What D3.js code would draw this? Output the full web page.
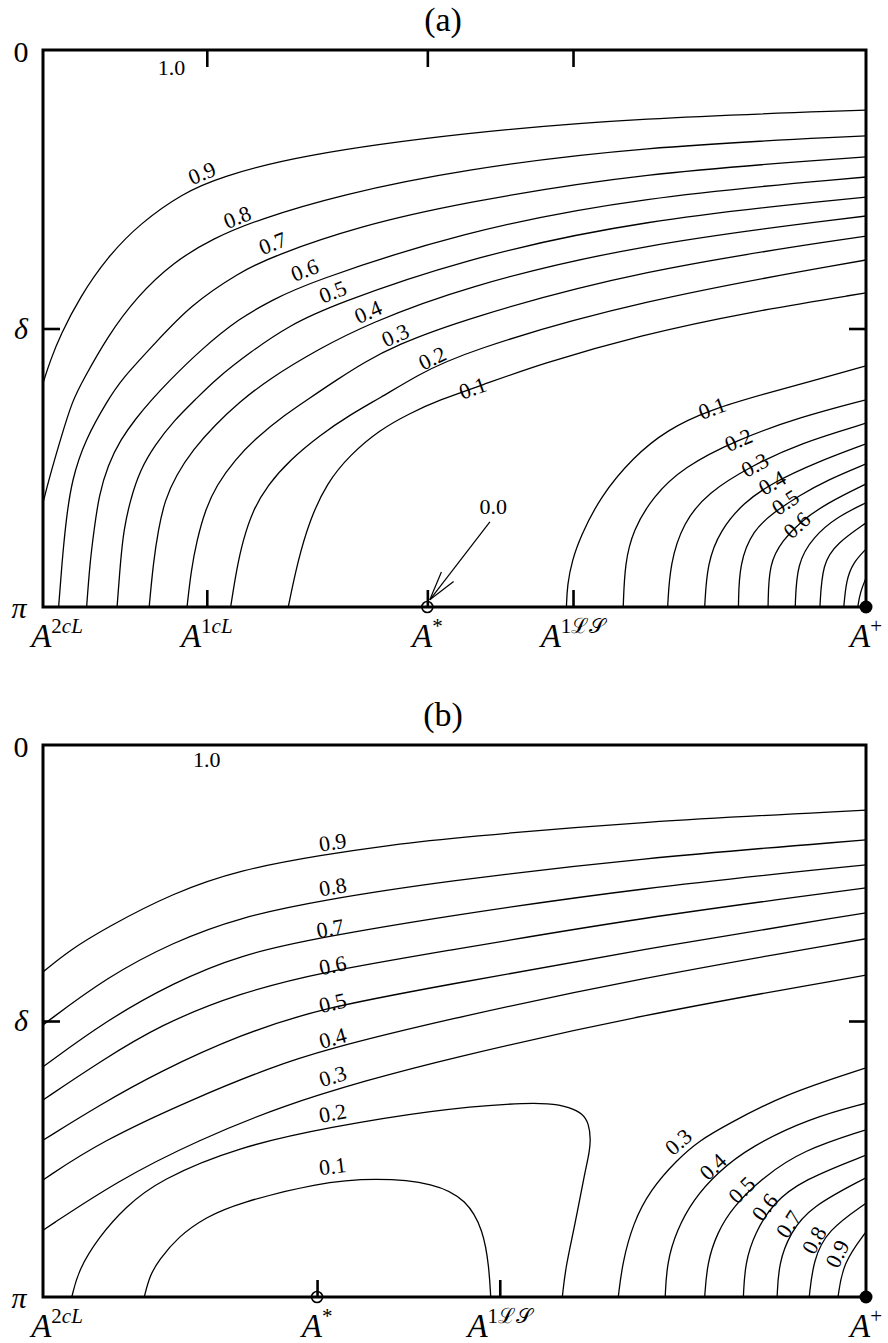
<!DOCTYPE html>
<html>
<head>
<meta charset="utf-8">
<script src="https://cdn.jsdelivr.net/npm/d3@7"></script>
<style>
  body { margin: 0; background: #fff; }
  svg text { font-family: "Liberation Serif", "Times New Roman", serif; fill: #000; }
</style>
</head>
<body>
<svg id="chart" width="888" height="1343"></svg>
<script>
// Coordinates: x = position along the parameter path (0 = left edge, 1 = A+),
// d = δ/π (0 at the top edge, 1 at the bottom edge).

// ---------- panel (a) ----------
const leftFamilyA = [
  { level: "0.9", label: [0.193, 0.221], pts: [[0,0.598],[0.009,0.557],[0.021,0.512],[0.045,0.443],[0.078,0.372],[0.118,0.311],[0.170,0.257],[0.215,0.228],[0.312,0.189],[0.507,0.149],[0.725,0.122],[1,0.108]] },
  { level: "0.8", label: [0.236, 0.300], pts: [[0,0.813],[0.007,0.772],[0.021,0.700],[0.036,0.628],[0.049,0.592],[0.078,0.515],[0.114,0.443],[0.158,0.381],[0.207,0.338],[0.260,0.305],[0.361,0.260],[0.507,0.215],[0.725,0.174],[1,0.154]] },
  { level: "0.7", label: [0.279, 0.347], pts: [[0.019,1],[0.023,0.921],[0.028,0.844],[0.035,0.772],[0.051,0.700],[0.079,0.628],[0.095,0.592],[0.134,0.530],[0.179,0.458],[0.239,0.399],[0.279,0.370],[0.385,0.316],[0.507,0.275],[0.725,0.221],[1,0.192]] },
  { level: "0.6", label: [0.318, 0.395], pts: [[0.053,1],[0.057,0.921],[0.062,0.862],[0.068,0.799],[0.079,0.745],[0.094,0.700],[0.113,0.661],[0.132,0.628],[0.152,0.596],[0.191,0.539],[0.239,0.481],[0.279,0.449],[0.318,0.420],[0.507,0.327],[0.725,0.264],[1,0.228]] },
  { level: "0.5", label: [0.352, 0.434], pts: [[0.090,1],[0.094,0.921],[0.098,0.862],[0.106,0.808],[0.118,0.754],[0.136,0.709],[0.160,0.664],[0.185,0.628],[0.209,0.592],[0.252,0.542],[0.300,0.494],[0.352,0.458],[0.507,0.377],[0.725,0.305],[1,0.264]] },
  { level: "0.4", label: [0.395, 0.470], pts: [[0.129,1],[0.134,0.921],[0.140,0.862],[0.148,0.808],[0.162,0.763],[0.182,0.718],[0.209,0.673],[0.239,0.632],[0.273,0.592],[0.337,0.535],[0.395,0.492],[0.507,0.427],[0.725,0.348],[1,0.298]] },
  { level: "0.3", label: [0.428, 0.512], pts: [[0.175,1],[0.180,0.934],[0.187,0.880],[0.197,0.826],[0.211,0.781],[0.233,0.736],[0.260,0.695],[0.294,0.655],[0.321,0.628],[0.357,0.592],[0.391,0.560],[0.428,0.531],[0.507,0.485],[0.725,0.395],[1,0.334]] },
  { level: "0.2", label: [0.473, 0.553], pts: [[0.228,1],[0.235,0.934],[0.243,0.880],[0.255,0.826],[0.273,0.781],[0.300,0.736],[0.337,0.691],[0.373,0.655],[0.409,0.625],[0.454,0.585],[0.507,0.544],[0.725,0.449],[1,0.377]] },
  { level: "0.1", label: [0.522, 0.607], pts: [[0.298,1],[0.309,0.921],[0.324,0.844],[0.345,0.777],[0.373,0.727],[0.409,0.682],[0.446,0.652],[0.482,0.628],[0.531,0.603],[0.604,0.564],[0.725,0.512],[0.859,0.470],[1,0.436]] }
];

const rightFamilyA = [
  { level: "0.1", label: [0.813, 0.643], pts: [[0.636,1],[0.637,0.960],[0.643,0.916],[0.653,0.874],[0.677,0.802],[0.717,0.731],[0.758,0.682],[0.810,0.646],[0.880,0.616],[0.940,0.592],[1,0.567]] },
  { level: "0.2", label: [0.845, 0.700], pts: [[0.705,1],[0.707,0.921],[0.717,0.862],[0.741,0.802],[0.778,0.749],[0.843,0.700],[0.920,0.659],[1,0.628]] },
  { level: "0.3", label: [0.865, 0.745], pts: [[0.759,1],[0.762,0.921],[0.778,0.849],[0.807,0.795],[0.863,0.745],[0.920,0.706],[1,0.670]] },
  { level: "0.4", label: [0.886, 0.777], pts: [[0.804,1],[0.807,0.921],[0.823,0.862],[0.851,0.813],[0.886,0.777],[0.940,0.740],[1,0.707]] },
  { level: "0.5", label: [0.902, 0.812], pts: [[0.845,1],[0.846,0.921],[0.863,0.862],[0.887,0.831],[0.920,0.799],[0.953,0.772],[1,0.743]] },
  { level: "0.6", label: [0.916, 0.853], pts: [[0.881,1],[0.882,0.921],[0.899,0.880],[0.920,0.847],[0.953,0.813],[1,0.779]] },
  { level: "0.7", label: null, pts: [[0.914,1],[0.916,0.921],[0.936,0.874],[0.965,0.838],[1,0.813]] },
  { level: "0.8", label: null, pts: [[0.944,1],[0.947,0.921],[0.965,0.885],[1,0.849]] },
  { level: "0.9", label: null, pts: [[0.973,1],[0.976,0.952],[0.984,0.921],[1,0.896]] },
  { level: "1.0", label: null, pts: [[0.990,1],[0.993,0.973],[1,0.948]] }
];

// zero-level pointer: label position, tail and tip of the arrow
const zeroLabelA = [0.547, 0.820];
const zeroArrowA = [[0.543, 0.847], [0.470, 0.987]];
const topLabelA = [0.156, 0.031];

const markNamesA = ["2cL", "1cL", "*", "1ℒ𝒮", "+"];
const markPosA   = [0.017, 0.199, 0.467, 0.644, 1];
const tickPosA   = [0.199, 0.467, 0.644];

// ---------- panel (b) ----------
const upperFamilyB = [
  { level: "0.9", label: [0.352, 0.176], pts: [[0,0.411],[0.033,0.371],[0.078,0.330],[0.158,0.268],[0.239,0.226],[0.340,0.199],[0.422,0.181],[0.507,0.167],[0.725,0.139],[1,0.118]] },
  { level: "0.8", label: [0.352, 0.257], pts: [[0,0.507],[0.078,0.420],[0.158,0.357],[0.239,0.312],[0.340,0.281],[0.482,0.248],[0.725,0.205],[1,0.172]] },
  { level: "0.7", label: [0.349, 0.332], pts: [[0,0.583],[0.078,0.498],[0.158,0.431],[0.239,0.380],[0.340,0.348],[0.482,0.312],[0.725,0.259],[1,0.217]] },
  { level: "0.6", label: [0.352, 0.399], pts: [[0,0.643],[0.069,0.574],[0.142,0.507],[0.239,0.449],[0.340,0.411],[0.482,0.375],[0.725,0.313],[1,0.259]] },
  { level: "0.5", label: [0.352, 0.467], pts: [[0,0.716],[0.069,0.652],[0.141,0.592],[0.239,0.525],[0.340,0.476],[0.482,0.437],[0.725,0.371],[1,0.304]] },
  { level: "0.4", label: [0.352, 0.531], pts: [[0,0.788],[0.069,0.719],[0.187,0.638],[0.279,0.583],[0.340,0.553],[0.482,0.500],[0.725,0.422],[1,0.351]] },
  { level: "0.3", label: [0.352, 0.600], pts: [[0,0.879],[0.092,0.788],[0.188,0.716],[0.294,0.652],[0.395,0.607],[0.482,0.572],[0.725,0.489],[1,0.417]] }
];

const basinFamilyB = [
  { level: "0.2", label: [0.352, 0.667], pts: [[0.035,1],[0.043,0.951],[0.068,0.891],[0.100,0.837],[0.141,0.788],[0.237,0.728],[0.349,0.692],[0.476,0.661],[0.572,0.649],[0.616,0.649],[0.640,0.656],[0.656,0.668],[0.663,0.685],[0.666,0.716],[0.662,0.752],[0.659,0.770],[0.645,0.879],[0.635,0.946],[0.631,1]] },
  { level: "0.1", label: [0.352, 0.763], pts: [[0.123,1],[0.130,0.960],[0.141,0.933],[0.164,0.891],[0.198,0.855],[0.237,0.830],[0.333,0.793],[0.405,0.784],[0.476,0.793],[0.515,0.824],[0.535,0.879],[0.542,0.946],[0.544,1]] }
];

const rightFamilyB = [
  { level: "0.3", label: [0.772, 0.719], pts: [[0.699,1],[0.704,0.938],[0.717,0.866],[0.738,0.806],[0.770,0.752],[0.798,0.716],[0.831,0.688],[0.899,0.634],[1,0.585]] },
  { level: "0.4", label: [0.814, 0.764], pts: [[0.756,1],[0.758,0.938],[0.770,0.879],[0.790,0.824],[0.819,0.775],[0.859,0.728],[0.932,0.676],[1,0.649]] },
  { level: "0.5", label: [0.849, 0.806], pts: [[0.804,1],[0.807,0.938],[0.819,0.884],[0.838,0.837],[0.875,0.783],[0.923,0.734],[1,0.697]] },
  { level: "0.6", label: [0.877, 0.837], pts: [[0.851,1],[0.853,0.938],[0.865,0.884],[0.887,0.830],[0.923,0.788],[1,0.743]] },
  { level: "0.7", label: [0.906, 0.868], pts: [[0.892,1],[0.894,0.938],[0.908,0.884],[0.932,0.837],[1,0.784]] },
  { level: "0.8", label: [0.937, 0.897], pts: [[0.931,1],[0.936,0.933],[0.953,0.879],[1,0.830]] },
  { level: "0.9", label: [0.965, 0.922], pts: [[0.966,1],[0.972,0.938],[1,0.882]] }
];

const topLabelB = [0.199, 0.027];

const markNamesB = ["2cL", "*", "1ℒ𝒮", "+"];
const markPosB   = [0.017, 0.333, 0.555, 1];
const tickPosB   = [0.333, 0.555];

// ---------- drawing ----------
const svg = d3.select("#chart");
const left = 43, right = 866;
const x = d3.scaleLinear().domain([0, 1]).range([left, right]);

// B-spline through the traced points keeps the level curves smooth
const line = (y) => d3.line()
  .x(p => x(p[0]))
  .y(p => y(p[1]))
  .curve(d3.curveBasis);

function drawPanel(cfg) {
  const y = d3.scaleLinear().domain([0, 1]).range([cfg.top, cfg.bottom]);
  const g = svg.append("g");
  const clipId = "clip-" + cfg.id;
  svg.append("defs").append("clipPath").attr("id", clipId)
    .append("rect").attr("x", left).attr("y", cfg.top)
    .attr("width", right - left).attr("height", cfg.bottom - cfg.top);

  const plot = g.append("g").attr("clip-path", `url(#${clipId})`);
  const labelLayer = g.append("g");

  cfg.families.forEach(family => {
    family.forEach(c => {
      const path = plot.append("path")
        .attr("d", line(y)(c.pts))
        .attr("fill", "none")
        .attr("stroke", "#000")
        .attr("stroke-width", 1.3);
      if (c.label) {
        const node = path.node();
        const len = node.getTotalLength();
        const ax = x(c.label[0]), ay = y(c.label[1]);
        let best = 0, bestD = Infinity;
        for (let s = 0; s <= len; s += 1) {
          const p = node.getPointAtLength(s);
          const dd = (p.x - ax) ** 2 + (p.y - ay) ** 2;
          if (dd < bestD) { bestD = dd; best = s; }
        }
        const p0 = node.getPointAtLength(Math.max(0, best - 8));
        const p1 = node.getPointAtLength(Math.min(len, best + 8));
        let ang = Math.atan2(p1.y - p0.y, p1.x - p0.x) * 180 / Math.PI;
        if (ang > 90) ang -= 180;
        if (ang < -90) ang += 180;
        labelLayer.append("text")
          .attr("transform", `translate(${ax},${ay}) rotate(${ang})`)
          .attr("text-anchor", "middle")
          .attr("dominant-baseline", "central")
          .attr("font-size", 22)
          .text(c.level);
      }
    });
  });

  // top-edge level label
  labelLayer.append("text")
    .attr("x", x(cfg.topLabel[0])).attr("y", y(cfg.topLabel[1]))
    .attr("text-anchor", "middle").attr("dominant-baseline", "central")
    .attr("font-size", 22).text("1.0");

  // frame
  g.append("rect")
    .attr("x", left).attr("y", cfg.top)
    .attr("width", right - left).attr("height", cfg.bottom - cfg.top)
    .attr("fill", "none").attr("stroke", "#000").attr("stroke-width", 3);

  // inward ticks
  const tickStyle = sel => {
    sel.select(".domain").remove();
    sel.selectAll(".tick line").attr("stroke", "#000").attr("stroke-width", 2.6);
    sel.selectAll(".tick text").remove();
  };
  g.append("g").attr("transform", `translate(0,${cfg.bottom})`)
    .call(d3.axisTop(x).tickValues(cfg.ticks).tickSize(17).tickFormat(""))
    .call(tickStyle);
  if (cfg.topTicks) {
    g.append("g").attr("transform", `translate(0,${cfg.top})`)
      .call(d3.axisBottom(x).tickValues(cfg.ticks).tickSize(17).tickFormat(""))
      .call(tickStyle);
  }
  g.append("g").attr("transform", `translate(${left},0)`)
    .call(d3.axisRight(y).tickValues([0.5]).tickSize(17).tickFormat(""))
    .call(tickStyle);
  g.append("g").attr("transform", `translate(${right},0)`)
    .call(d3.axisLeft(y).tickValues([0.5]).tickSize(17).tickFormat(""))
    .call(tickStyle);

  // vertical axis labels
  g.append("text").attr("x", 21).attr("y", y(0) + 12)
    .attr("text-anchor", "middle").attr("font-size", 30).text("0");
  g.append("text").attr("x", 21).attr("y", y(0.5) + 10)
    .attr("text-anchor", "middle").attr("font-size", 30).attr("font-style", "italic").text("δ");
  g.append("text").attr("x", 19).attr("y", y(1) + 11)
    .attr("text-anchor", "middle").attr("font-size", 30).attr("font-style", "italic").text("π");

  // title
  g.append("text").attr("x", 443).attr("y", cfg.top - 19)
    .attr("text-anchor", "middle").attr("font-size", 34).text(cfg.title);

  // point names along the bottom
  cfg.markNames.forEach((name, i) => {
    const t = g.append("text")
      .attr("x", x(cfg.markPos[i])).attr("y", cfg.bottom + 40)
      .attr("text-anchor", "middle").attr("font-size", 33);
    t.append("tspan").attr("font-style", "italic").text("A");
    const sup = t.append("tspan").attr("dy", -14).attr("font-size", 21);
    Array.from(name).forEach(ch => {
      sup.append("tspan")
        .attr("font-style", /[a-zA-Z]/.test(ch) ? "italic" : "normal")
        .text(ch);
    });
  });

  // equilibria markers
  const star = cfg.markPos[cfg.markNames.indexOf("*")];
  g.append("circle").attr("cx", x(star)).attr("cy", cfg.bottom).attr("r", 5.5)
    .attr("fill", "none").attr("stroke", "#000").attr("stroke-width", 1.6);
  g.append("circle").attr("cx", x(1)).attr("cy", cfg.bottom).attr("r", 6.5)
    .attr("fill", "#000");

  return { g, y };
}

const pa = drawPanel({
  id: "a", top: 50, bottom: 607, title: "(a)",
  families: [leftFamilyA, rightFamilyA],
  topLabel: topLabelA, ticks: tickPosA, topTicks: true,
  markNames: markNamesA, markPos: markPosA
});

// zero-level arrow in panel (a)
{
  const y = pa.y;
  const tail = [x(zeroArrowA[0][0]), y(zeroArrowA[0][1])];
  const tip = [x(zeroArrowA[1][0]), y(zeroArrowA[1][1])];
  pa.g.append("line")
    .attr("x1", tail[0]).attr("y1", tail[1]).attr("x2", tip[0]).attr("y2", tip[1])
    .attr("stroke", "#000").attr("stroke-width", 1.2);
  const phi = Math.atan2(tail[1] - tip[1], tail[0] - tip[0]);
  [-0.26, 0.26].forEach(da => {
    pa.g.append("line")
      .attr("x1", tip[0]).attr("y1", tip[1])
      .attr("x2", tip[0] + 30 * Math.cos(phi + da)).attr("y2", tip[1] + 30 * Math.sin(phi + da))
      .attr("stroke", "#000").attr("stroke-width", 1.2);
  });
  pa.g.append("text")
    .attr("x", x(zeroLabelA[0])).attr("y", y(zeroLabelA[1]))
    .attr("text-anchor", "middle").attr("dominant-baseline", "central")
    .attr("font-size", 22).text("0.0");
}

drawPanel({
  id: "b", top: 745, bottom: 1297, title: "(b)",
  families: [upperFamilyB, basinFamilyB, rightFamilyB],
  topLabel: topLabelB, ticks: tickPosB, topTicks: false,
  markNames: markNamesB, markPos: markPosB
});
</script>
</body>
</html>
